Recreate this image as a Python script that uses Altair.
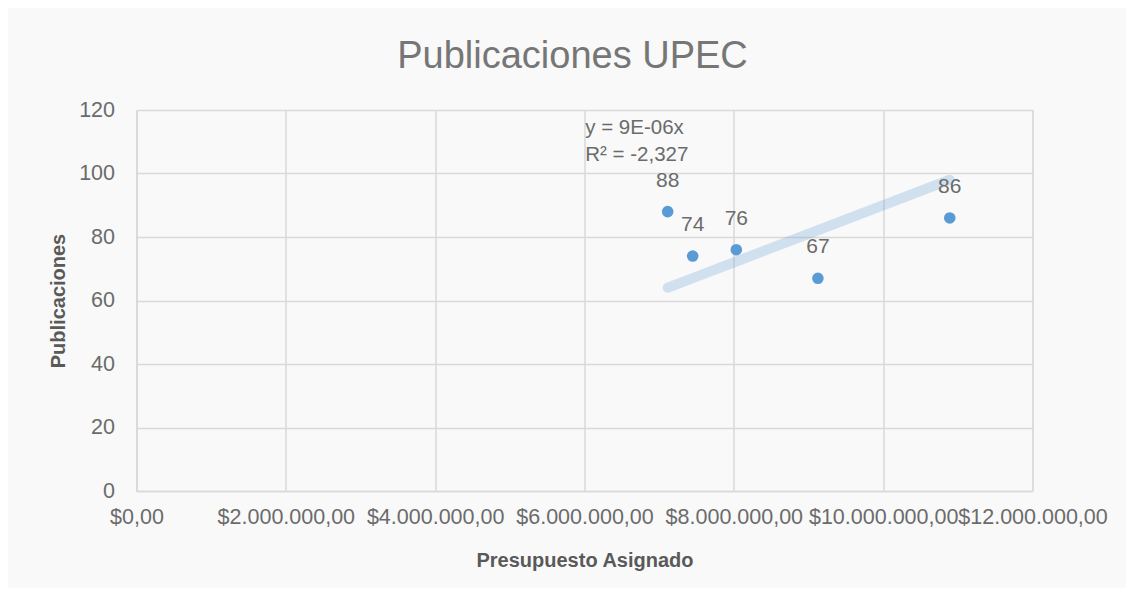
import altair as alt
import pandas as pd

# data
presupuesto = [7114000, 7449000, 8033000, 9126000, 10892000]
publicaciones = [88, 74, 76, 67, 86]
slope = 9e-06
eq_lines = ["y = 9E-06x", "R² = -2,327"]
eq_x = [6010000, 6010000]
eq_y = [114.3, 105.8]

x_ticks = [0, 2000000, 4000000, 6000000, 8000000, 10000000, 12000000]
y_ticks = [0, 20, 40, 60, 80, 100, 120]

df = pd.DataFrame({"presupuesto": presupuesto, "publicaciones": publicaciones})
eq_df = pd.DataFrame({"x": eq_x, "y": eq_y, "t": eq_lines})

FONT = "Liberation Sans"
LBL = "#6b6b6b"
BLUE = "#5b9bd5"
GRID = "#d9d9d9"

xscale = alt.Scale(domain=[0, 12000000], nice=False, zero=True)
yscale = alt.Scale(domain=[0, 120], nice=False)

x_enc = alt.X(
    "presupuesto:Q",
    scale=xscale,
    title="Presupuesto Asignado",
    axis=alt.Axis(
        values=x_ticks,
        format="$,.2f",
        labelFont=FONT, labelFontSize=21.5, labelColor=LBL, labelPadding=15,
        labelOverlap=False, labelFlush=False,
        titleFont=FONT, titleFontSize=20, titleFontWeight="bold", titleColor="#595959",
        titlePadding=23,
        ticks=False, domainColor=GRID, domainWidth=1.5,
        gridColor=GRID, gridWidth=1.5,
    ),
)
y_enc = alt.Y(
    "publicaciones:Q",
    scale=yscale,
    title="Publicaciones",
    axis=alt.Axis(
        values=y_ticks,
        labelFont=FONT, labelFontSize=21.5, labelColor=LBL, labelPadding=22,
        titleFont=FONT, titleFontSize=20, titleFontWeight="bold", titleColor="#595959",
        titlePadding=10,
        ticks=False, domainColor=GRID, domainWidth=1.5,
        gridColor=GRID, gridWidth=1.5,
    ),
)

base = alt.Chart(df)

trend = base.transform_calculate(
    trend=f"{slope} * datum.presupuesto"
).mark_line(
    color=BLUE, opacity=0.26, strokeWidth=10, strokeCap="round"
).encode(
    x=x_enc,
    y=alt.Y("trend:Q", scale=yscale),
)

points = base.mark_circle(size=135, color=BLUE, opacity=1).encode(x=x_enc, y=y_enc)

labels = base.mark_text(
    font=FONT, fontSize=21, color=LBL, dy=-31, baseline="middle", align="center"
).encode(
    x=alt.X("presupuesto:Q", scale=xscale),
    y=alt.Y("publicaciones:Q", scale=yscale),
    text=alt.Text("publicaciones:Q"),
)

eq = alt.Chart(eq_df).mark_text(
    font=FONT, fontSize=20.5, color=LBL, align="left", baseline="middle"
).encode(
    x=alt.X("x:Q", scale=xscale),
    y=alt.Y("y:Q", scale=yscale),
    text="t:N",
)

chart = alt.layer(trend, points, labels, eq).properties(
    width=896,
    height=381,
    autosize=alt.AutoSizeParams(type="none"),
    padding={"left": 128.5, "top": 102, "right": 93.5, "bottom": 97},
    background="#f9f9f9",
    title=alt.TitleParams(
        "Publicaciones UPEC",
        font=FONT, fontSize=38, fontWeight="normal", color="#767676",
        anchor="middle", dx=-12, offset=23,
    ),
).configure_view(
    stroke=None
).configure(
    locale=alt.Locale(
        number=alt.NumberLocale(
            decimal=",", thousands=".", grouping=[3], currency=["$", ""]
        )
    )
)

chart.save("out.html", embed_options={"renderer": "svg", "actions": False})
